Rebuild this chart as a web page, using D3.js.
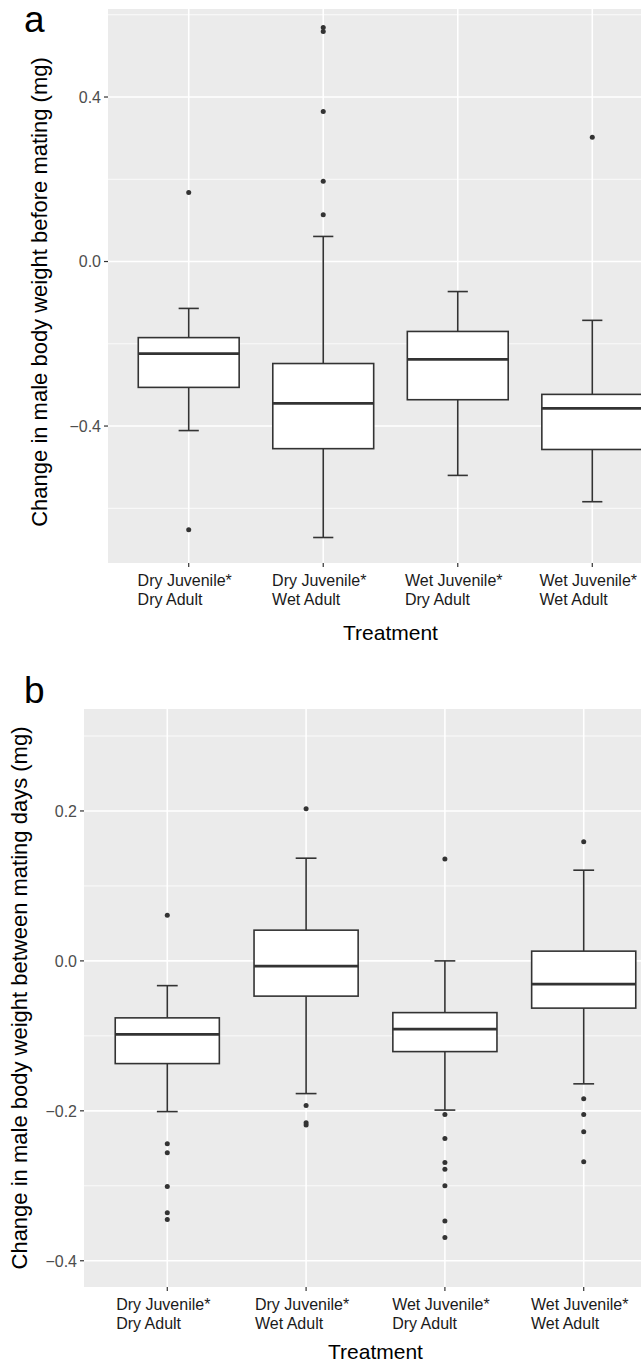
<!DOCTYPE html>
<html>
<head>
<meta charset="utf-8">
<style>
	body { margin: 0; background: #fff; }
	text { font-family: "Liberation Sans", Arial, sans-serif; }
	.grid-major { stroke: #fff; stroke-width: 1.6px; }
	.grid-minor { stroke: #fff; stroke-width: 0.8px; }
	.box rect { fill: #fff; stroke: #333; stroke-width: 1.6px; }
	.box line { stroke: #333; stroke-width: 1.6px; }
	.box .median { stroke-width: 2.8px; }
	.box circle { fill: #333; }
	.tick-y { fill: #4d4d4d; font-size: 16px; }
	.tick-x { fill: #1a1a1a; font-size: 16px; }
	.ticks line { stroke: #333; stroke-width: 1.2px; }
</style>
</head>
<body>
<svg width="641" height="1364"></svg>
<script src="https://d3js.org/d3.v7.min.js"></script>
<script>

	var juvenile = ["Dry Juvenile*", "Dry Juvenile*", "Wet Juvenile*", "Wet Juvenile*"];
	var adult = ["Dry Adult", "Wet Adult", "Dry Adult", "Wet Adult"];

	// panel a: change before mating, [lower whisker, Q1, median, Q3, upper whisker]
	var beforeBox = [
		[-0.411, -0.306, -0.224, -0.185, -0.114],
		[-0.671, -0.455, -0.345, -0.248, 0.061],
		[-0.520, -0.336, -0.238, -0.170, -0.073],
		[-0.584, -0.457, -0.357, -0.323, -0.143]
	];
	var beforeOutliers = [
		[0.168, -0.652],
		[0.569, 0.559, 0.365, 0.195, 0.114],
		[],
		[0.302]
	];
	var beforeTicks = [-0.4, 0.0, 0.4];
	var beforeMinor = [-0.6, -0.2, 0.2, 0.6];

	// panel b: change between mating days
	var betweenBox = [
		[-0.201, -0.137, -0.098, -0.076, -0.033],
		[-0.177, -0.047, -0.007, 0.041, 0.137],
		[-0.199, -0.121, -0.091, -0.069, 0.000],
		[-0.164, -0.063, -0.031, 0.013, 0.121]
	];
	var betweenOutliers = [
		[0.061, -0.244, -0.256, -0.301, -0.336, -0.345],
		[0.203, -0.193, -0.216, -0.219],
		[0.136, -0.205, -0.237, -0.269, -0.278, -0.300, -0.347, -0.369],
		[0.159, -0.184, -0.205, -0.228, -0.268]
	];
	var betweenTicks = [-0.4, -0.2, 0.0, 0.2];
	var betweenMinor = [-0.3, -0.1, 0.1, 0.3];

	var svg = d3.select("svg");

	function panel(o) {
		var g = svg.append("g");
		var x = d3.scaleLinear().domain([0.4, 4.6]).range([o.left, o.right]);
		var y = d3.scaleLinear().domain(o.ydomain).range([o.bottom, o.top]);
		var step = x(2) - x(1);

		g.append("rect")
			.attr("x", o.left).attr("y", o.top)
			.attr("width", o.right - o.left).attr("height", o.bottom - o.top)
			.attr("fill", "#ebebeb");

		g.selectAll(".grid-minor").data(o.minor).enter().append("line")
			.attr("class", "grid-minor")
			.attr("x1", o.left).attr("x2", o.right)
			.attr("y1", function (d) { return y(d); }).attr("y2", function (d) { return y(d); });

		g.selectAll(".grid-major").data(o.ticks).enter().append("line")
			.attr("class", "grid-major")
			.attr("x1", o.left).attr("x2", o.right)
			.attr("y1", function (d) { return y(d); }).attr("y2", function (d) { return y(d); });

		g.selectAll(".grid-vert").data(juvenile).enter().append("line")
			.attr("class", "grid-major")
			.attr("x1", function (d, i) { return x(i + 1); }).attr("x2", function (d, i) { return x(i + 1); })
			.attr("y1", o.top).attr("y2", o.bottom);

		var boxes = g.selectAll(".box").data(o.box).enter().append("g")
			.attr("class", "box")
			.attr("transform", function (d, i) { return "translate(" + x(i + 1) + ",0)"; });

		var bw = step * 0.75, cw = step * 0.15;

		boxes.append("line")
			.attr("x1", 0).attr("x2", 0)
			.attr("y1", function (d) { return y(d[0]); }).attr("y2", function (d) { return y(d[4]); });
		boxes.append("line")
			.attr("x1", -cw / 2).attr("x2", cw / 2)
			.attr("y1", function (d) { return y(d[0]); }).attr("y2", function (d) { return y(d[0]); });
		boxes.append("line")
			.attr("x1", -cw / 2).attr("x2", cw / 2)
			.attr("y1", function (d) { return y(d[4]); }).attr("y2", function (d) { return y(d[4]); });
		boxes.append("rect")
			.attr("x", -bw / 2).attr("width", bw)
			.attr("y", function (d) { return y(d[3]); })
			.attr("height", function (d) { return y(d[1]) - y(d[3]); });
		boxes.append("line")
			.attr("class", "median")
			.attr("x1", -bw / 2).attr("x2", bw / 2)
			.attr("y1", function (d) { return y(d[2]); }).attr("y2", function (d) { return y(d[2]); });

		boxes.each(function (d, i) {
			d3.select(this).selectAll("circle").data(o.outliers[i]).enter().append("circle")
				.attr("cx", 0).attr("cy", function (v) { return y(v); }).attr("r", 2.5);
		});

		// axes
		var yt = g.append("g").attr("class", "ticks");
		yt.selectAll("line").data(o.ticks).enter().append("line")
			.attr("x1", o.left - 4).attr("x2", o.left)
			.attr("y1", function (d) { return y(d); }).attr("y2", function (d) { return y(d); });
		yt.selectAll("text").data(o.ticks).enter().append("text")
			.attr("class", "tick-y")
			.attr("x", o.left - 7)
			.attr("y", function (d) { return y(d); })
			.attr("dy", "0.36em")
			.attr("text-anchor", "end")
			.text(function (d) { return d3.format(".1f")(d); });

		var xt = g.append("g").attr("class", "ticks");
		xt.selectAll("line").data(juvenile).enter().append("line")
			.attr("x1", function (d, i) { return x(i + 1); }).attr("x2", function (d, i) { return x(i + 1); })
			.attr("y1", o.bottom).attr("y2", o.bottom + 4);

		var lbl = xt.selectAll("text").data(juvenile).enter().append("text")
			.attr("class", "tick-x")
			.attr("y", o.bottom + 23);
		lbl.append("tspan").text(function (d) { return d; });
		lbl.append("tspan")
			.attr("dy", 19)
			.text(function (d, i) { return adult[i]; });
		lbl.each(function (d, i) {
			var w = d3.max(d3.select(this).selectAll("tspan").nodes(), function (n) { return n.getComputedTextLength(); });
			var x0 = x(i + 1) - w / 2 - 4;
			d3.select(this).selectAll("tspan").attr("x", x0);
		});

		g.append("text")
			.attr("x", (o.left + o.right) / 2)
			.attr("y", o.xtitleY)
			.attr("text-anchor", "middle")
			.style("font-size", "21px")
			.attr("fill", "#000")
			.text("Treatment");

		g.append("text")
			.attr("transform", "translate(" + o.ytitleX + "," + o.ytitleY + ") rotate(-90)")
			.attr("text-anchor", "middle")
			.style("font-size", "22px")
			.attr("fill", "#000")
			.text(o.ytitle);

		g.append("text")
			.attr("x", 24).attr("y", o.tagY)
			.style("font-size", "37px")
			.attr("fill", "#000")
			.text(o.tag);
	}

	panel({
		left: 108, right: 673, top: 9, bottom: 563,
		ydomain: [-0.733, 0.614],
		ticks: beforeTicks, minor: beforeMinor,
		box: beforeBox, outliers: beforeOutliers,
		xtitleY: 640, ytitleX: 47, ytitleY: 292,
		ytitle: "Change in male body weight before mating (mg)",
		tag: "a", tagY: 32
	});

	panel({
		left: 84, right: 667, top: 709, bottom: 1287,
		ydomain: [-0.435, 0.336],
		ticks: betweenTicks, minor: betweenMinor,
		box: betweenBox, outliers: betweenOutliers,
		xtitleY: 1359, ytitleX: 27, ytitleY: 998,
		ytitle: "Change in male body weight between mating days (mg)",
		tag: "b", tagY: 703
	});

</script>
</body>
</html>
